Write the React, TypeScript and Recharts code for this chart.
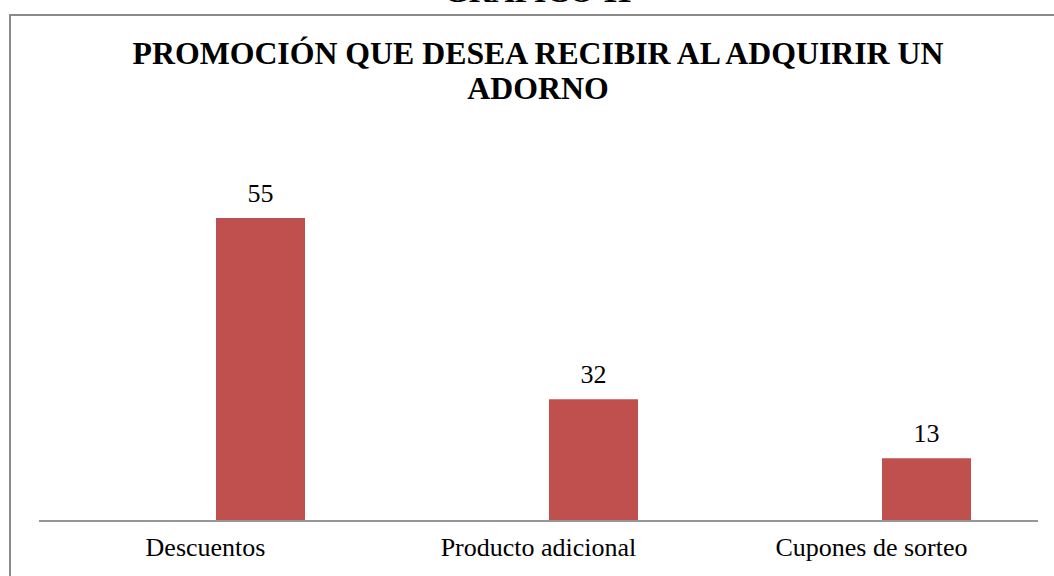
import React from "react";
import { BarChart, Bar, XAxis, YAxis, LabelList } from "recharts";

const categories = ["Descuentos", "Producto adicional", "Cupones de sorteo"];
// bar heights as drawn in the picture (same scale as the 55 bar)
const barHeights = [55, 22.1, 11.4];
// data-label texts printed above the bars
const dataLabels = [55, 32, 13];
// empty first series (reserves the left slot of each category, as in the original)
const emptySeries: (number | null)[] = [null, null, null];

const chartTitleLines = ["PROMOCIÓN QUE DESEA RECIBIR AL ADQUIRIR UN", "ADORNO"];
const headingText = "GRÁFICO 11";

const data = categories.map((c, i) => ({
  name: c,
  empty: emptySeries[i],
  value: barHeights[i],
  label: dataLabels[i],
}));

const FONT = '"Liberation Serif", "Times New Roman", "DejaVu Serif", serif';

const titleStyle: React.CSSProperties = {
  fontFamily: FONT,
  fontWeight: 700,
  fontSize: 31.8,
  fill: "#000",
};

export default function App() {
  return (
    <div
      style={{
        position: "fixed",
        left: 0,
        top: 0,
        width: 1054,
        height: 576,
        overflow: "hidden",
        background: "#fff",
        fontFamily: FONT,
      }}
    >
      <div
        style={{
          position: "absolute",
          left: 9,
          top: 14,
          width: 1070,
          height: 620,
          border: "2px solid #8a8a8a",
          boxSizing: "border-box",
        }}
      />
      <svg
        width={1054}
        height={576}
        style={{ position: "absolute", left: 0, top: 0, pointerEvents: "none" }}
      >
        <text x={538} y={2} textAnchor="middle" style={titleStyle}>
          {headingText}
        </text>
        <text x={538} y={64} textAnchor="middle" style={titleStyle}>
          {chartTitleLines[0]}
        </text>
        <text x={538} y={99} textAnchor="middle" style={titleStyle}>
          {chartTitleLines[1]}
        </text>
      </svg>
      <div style={{ position: "absolute", left: 0, top: 0 }}>
        <BarChart
          width={1054}
          height={576}
          data={data}
          margin={{ top: 190.5, right: 16, bottom: 0, left: 39 }}
          barSize={89}
          barGap={21}
          style={{ fontFamily: FONT }}
        >
          <XAxis
            dataKey="name"
            height={55}
            tickLine={false}
            axisLine={{ stroke: "#969696", strokeWidth: 2 }}
            tickMargin={11}
            tick={{ fill: "#000", fontSize: 26, style: { fontFamily: FONT } }}
            interval={0}
          />
          <YAxis hide domain={[0, 60]} />
          <Bar dataKey="empty" fill="#4F81BD" isAnimationActive={false} />
          <Bar dataKey="value" fill="#C0504D" isAnimationActive={false}>
            <LabelList
              dataKey="label"
              position="top"
              offset={16}
              style={{ fill: "#000", fontSize: 26, fontFamily: FONT }}
            />
          </Bar>
        </BarChart>
      </div>
    </div>
  );
}
